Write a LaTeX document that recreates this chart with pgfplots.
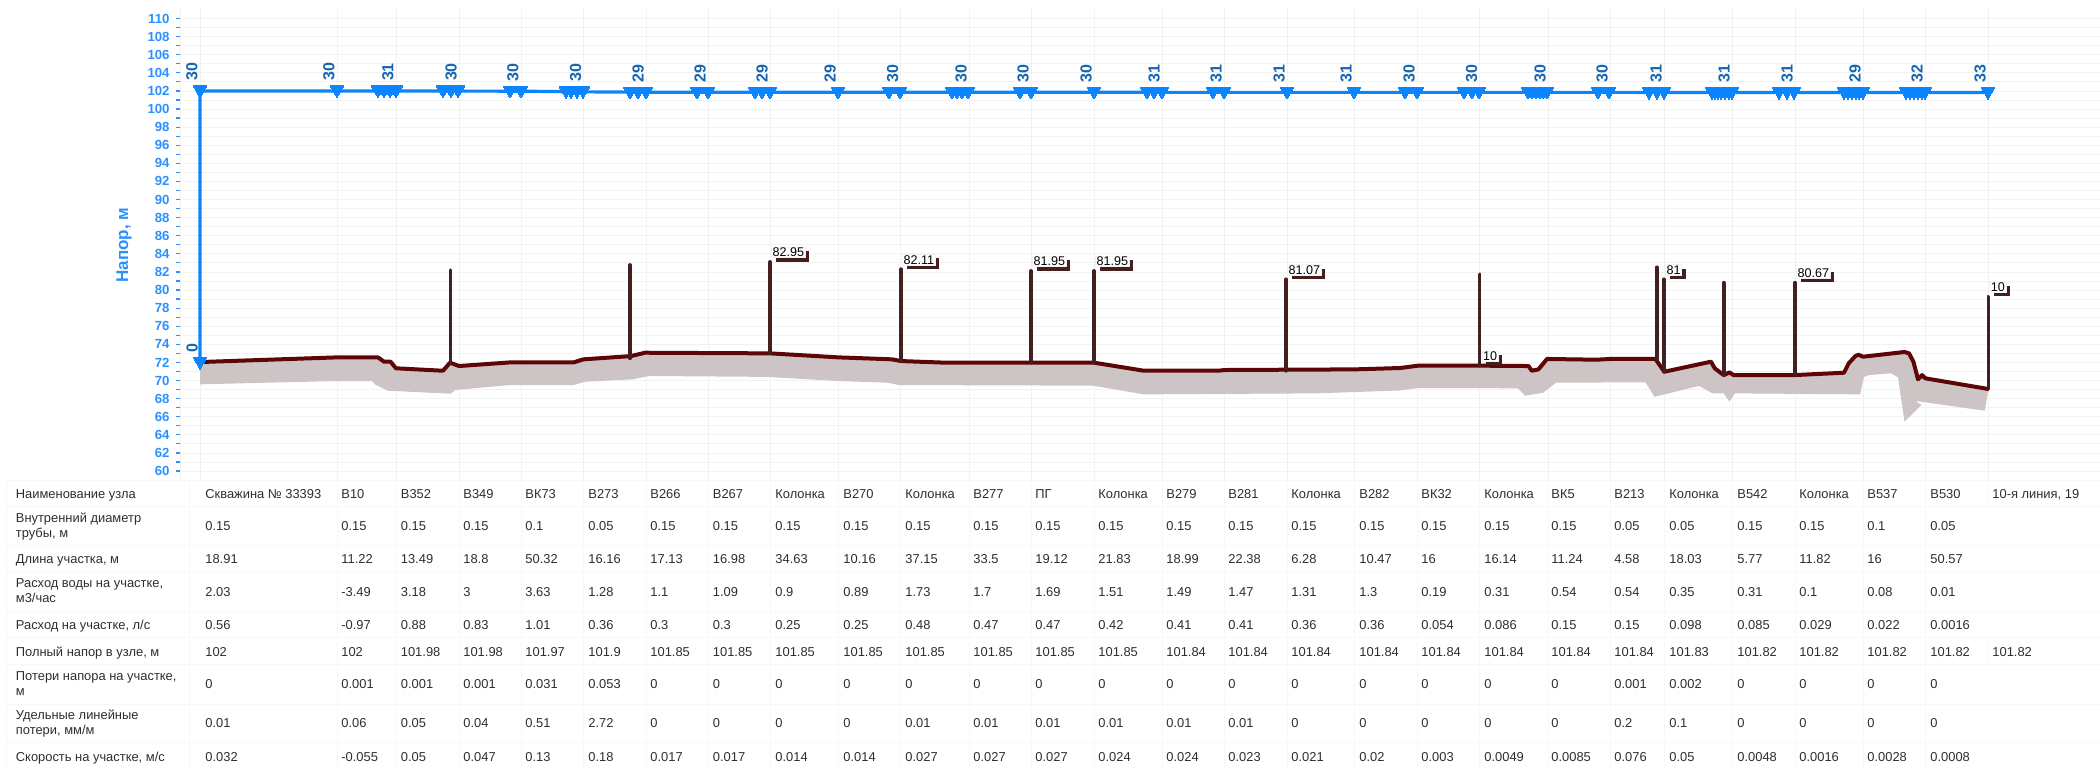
\documentclass[border=0pt]{standalone}
\usepackage{fontspec}
\setmainfont{Liberation Sans}
\usepackage{pgfplots}
\pgfplotsset{compat=1.18}
\usetikzlibrary{shadows}
\definecolor{bl}{HTML}{0A84FF}
\definecolor{blt}{HTML}{2A90FF}
\definecolor{bld}{HTML}{1565B0}
\definecolor{brw}{HTML}{5E0505}
\definecolor{stm}{HTML}{43201F}
\definecolor{gry}{HTML}{CDC5C5}
\definecolor{gr1}{HTML}{F8F8F8}
\definecolor{gr2}{HTML}{F2F2F2}
\definecolor{txt}{HTML}{2E2E2E}
\newcommand{\stem}[3]{\addplot[stm,line width=1.9pt,line cap=round] coordinates {(#1,#2) (#1,#3)};}
\newcommand{\tf}{\fontsize{6.45pt}{7.5pt}\selectfont}
\def\colx{{205,341,400.5,463,525,588,650,712.5,775,843,905,973,1035,1098,1166,1228,1291,1359,1421,1484,1551,1614,1669,1737,1799,1867,1930,1992}}
\newcommand{\trow}[2]{\foreach \v [count=\i from 0] in {#2}{\pgfmathsetmacro\xx{\colx[\i]}\node[anchor=base west,inner sep=0pt,text=txt,font=\tf] at (\xx,#1+4.5) {\v};}}
\newcommand{\hd}[3]{\node[anchor=base west,inner sep=0pt,text=txt,font=\tf] at (15.5,#1) {#2};\node[anchor=base west,inner sep=0pt,text=txt,font=\tf] at (15.5,#1+15) {#3};}
\begin{document}
\begin{tikzpicture}
\useasboundingbox (0,0) rectangle (1050pt,-384pt);
\begin{axis}[
  at={(90pt,-240.025pt)},anchor=south west,
  scale only axis,width=960pt,height=235.3pt,
  xmin=180,xmax=2100,ymin=59,ymax=111,clip=false,
  axis x line*=bottom,axis y line*=left,
  x axis line style={draw=none},
  y axis line style={draw=gr2,-},
  xtick={200,337,396,459,521,583.5,646,708,770,838,900.6,969,1031,1094,1162,1224,1287,1354,1417,1479.5,1548,1610,1664,1732,1795,1863,1925,1988},
  xticklabels={},
  ytick={60,62,...,110},
  minor y tick num=1,
  xmajorgrids,ymajorgrids,yminorgrids,
  x grid style={gr2,line width=0.5pt},
  y grid style={gr2,line width=0.4pt},
  minor grid style={gr1,line width=0.4pt},
  major x tick style={draw=none},
  y tick style={blt,line width=0.6pt},
  tick align=outside,
  major tick length=2pt,minor tick length=2pt,
  yticklabel style={text=blt,font=\bfseries\fontsize{6.6pt}{7pt}\selectfont,/pgf/number format/assume math mode=true,xshift=0.3pt},
]
% head line
\addplot[bl,line width=1.6pt,line join=round] coordinates {(200,72)(200,102)(337,102)(396,101.98)(459,101.98)(521,101.97)(583.5,101.9)(646,101.85)(708,101.85)(770,101.85)(838,101.85)(900.6,101.85)(969,101.85)(1031,101.85)(1094,101.85)(1162,101.84)(1224,101.84)(1287,101.84)(1354,101.84)(1417,101.84)(1479.5,101.84)(1548,101.84)(1610,101.84)(1664,101.83)(1732,101.82)(1795,101.82)(1863,101.82)(1925,101.82)(1988,101.82)};
% node markers
\addplot[bl,only marks,mark=triangle*,mark size=3.9pt,mark options={draw=bl,fill=bl,line width=0pt,yshift=0.6pt,rotate=180}] coordinates {
(200,72)(200,102)(337,102)
(378,101.98)(384,101.98)(390,101.98)(396,101.98)
(443,101.98)(451,101.98)(458,101.98)
(510,101.97)(521,101.97)
(566,101.9)(571,101.9)(577,101.9)(583,101.9)
(630,101.85)(638,101.85)(646,101.85)
(697,101.85)(708,101.85)
(755,101.85)(762,101.85)(770,101.85)
(838,101.85)
(889,101.85)(900,101.85)
(952,101.85)(957,101.85)(962,101.85)(968,101.85)
(1020,101.85)(1031,101.85)
(1094,101.85)
(1147,101.84)(1154,101.84)(1162,101.84)
(1213,101.84)(1224,101.84)
(1287,101.84)(1354,101.84)
(1405,101.84)(1417,101.84)
(1464,101.84)(1472,101.84)(1479,101.84)
(1528,101.84)(1532,101.84)(1536,101.84)(1540,101.84)(1543,101.84)(1547,101.84)
(1598,101.84)(1609,101.84)
(1649,101.83)(1657,101.83)(1664,101.83)
(1712,101.82)(1715,101.82)(1718,101.82)(1721,101.82)(1725,101.82)(1729,101.82)(1732,101.82)
(1779,101.82)(1787,101.82)(1794,101.82)
(1844,101.82)(1848,101.82)(1852,101.82)(1856,101.82)(1859,101.82)(1863,101.82)
(1906,101.82)(1910,101.82)(1914,101.82)(1918,101.82)(1922,101.82)(1925,101.82)
(1988,101.82)};
% numbers over nodes
\addplot[draw=none,mark=none,point meta=explicit symbolic,
  nodes near coords,
  every node near coord/.style={xshift=-4pt,yshift=9.5pt,anchor=center,rotate=90,inner sep=0pt,text=bld,font=\bfseries\fontsize{8pt}{8pt}\selectfont}]
 coordinates {(200,102)[30](337,102)[30](396,101.98)[31](459,101.98)[30](521,101.97)[30](583.5,101.9)[30](646,101.85)[29](708,101.85)[29](770,101.85)[29](838,101.85)[29](900.6,101.85)[30](969,101.85)[30](1031,101.85)[30](1094,101.85)[30](1162,101.84)[31](1224,101.84)[31](1287,101.84)[31](1354,101.84)[31](1417,101.84)[30](1479.5,101.84)[30](1548,101.84)[30](1610,101.84)[30](1664,101.83)[31](1732,101.82)[31](1795,101.82)[31](1863,101.82)[29](1925,101.82)[32](1988,101.82)[33]};
\addplot[draw=none,mark=none,point meta=explicit symbolic,
  nodes near coords,
  every node near coord/.style={xshift=-4pt,yshift=7.2pt,anchor=center,rotate=90,inner sep=0pt,text=bld,font=\bfseries\fontsize{8pt}{8pt}\selectfont}]
 coordinates {(200,72)[0]};
% soil band
\addplot[fill=gry,draw=none] coordinates {
(200,72.04)(338,72.56)(378,72.56)(384,72.08)(390.5,72.08)(396,71.35)(443,71.08)(450,71.97)(459,71.6)(510,72.0)(573.5,72.0)(583.5,72.34)(631,72.7)(645,73.07)(770,73.0)(838,72.56)(892,72.34)(901,72.15)(945.5,71.97)(1094,71.97)(1144,71.08)(1218,71.08)(1354.5,71.23)(1400,71.38)(1418,71.64)(1528.6,71.6)(1531.7,71.08)(1538.4,71.23)(1547,72.38)(1655.4,72.38)(1664.3,70.97)(1711,72.08)(1714.7,71.35)(1723.7,70.6)(1729.5,70.9)(1733.5,70.6)(1844,70.86)(1848.7,71.9)(1855.4,72.7)(1858.5,72.85)(1863,72.63)(1904.5,73.15)(1909,73.0)(1913.4,72.08)(1918,70.13)(1922,70.6)(1925.4,70.24)(1988.4,69.06)
(1984.8,66.66)(1915.6,67.74)(1921.4,67.3)(1904.5,65.45)(1898,70.35)(1891,70.8)(1869,70.6)(1864,70.4)(1860,68.47)(1735,68.58)(1729.5,67.66)(1723.7,68.58)(1712.5,68.58)(1699,69.4)(1654.5,68.2)(1645.5,69.8)(1556,69.76)(1543,68.65)(1525,68.32)(1518,69.14)(1418,69.17)(1400,68.9)(1316,68.58)(1144,68.47)(1093,69.43)(899,69.5)(887.5,69.76)(838,69.94)(767,70.4)(649,70.5)(633,70.13)(585.4,69.87)(573.5,69.5)(510,69.5)(455,68.95)(451,68.54)(388,68.87)(376,69.5)(372,69.94)(336,69.94)(200,69.58)};
% ground line
\addplot[brw,line width=2pt,line join=round] coordinates {
(200,72.04)(338,72.56)(378,72.56)(384,72.08)(390.5,72.08)(396,71.35)(443,71.08)(450,71.97)(459,71.6)(510,72.0)(573.5,72.0)(583.5,72.34)(631,72.7)(645,73.07)(770,73.0)(838,72.56)(892,72.34)(901,72.15)(945.5,71.97)(1094,71.97)(1144,71.08)(1218,71.08)(1224.5,71.16)(1354.5,71.23)(1400,71.38)(1418,71.64)(1479.5,71.64)(1528.6,71.6)(1531.7,71.08)(1538.4,71.23)(1547,72.38)(1596.4,72.3)(1610,72.38)(1655.4,72.38)(1664.3,70.97)(1711,72.08)(1714.7,71.35)(1723.7,70.6)(1729.5,70.9)(1733.5,70.6)(1795,70.6)(1844,70.86)(1848.7,71.9)(1855.4,72.7)(1858.5,72.85)(1863,72.63)(1904.5,73.15)(1909,73.0)(1913.4,72.08)(1918,70.13)(1922,70.6)(1925.4,70.24)(1988.4,69.06)};
% stems
\stem{450.5}{71.97}{82.2}
\stem{630}{72.45}{82.76}
\stem{770}{73}{83.1}
\stem{901}{72.15}{82.3}
\stem{1031}{71.97}{82.1}
\stem{1094}{71.97}{82.1}
\stem{1286}{71.08}{81.18}
\stem{1479.5}{71.64}{81.73}
\stem{1656.7}{72.38}{82.5}
\stem{1664}{70.97}{81.18}
\stem{1723.7}{70.6}{80.8}
\stem{1795}{70.6}{80.8}
\stem{1988.4}{69.06}{79.26}
% flags
\addplot[draw=none,mark=none,point meta=explicit symbolic,
  nodes near coords,
  every node near coord/.style={xshift=0.6pt,yshift=2pt,anchor=south west,inner xsep=0.5pt,inner ysep=0.4pt,fill=white,draw=gr2,line width=0.3pt,text=black,text height=4.4pt,text depth=0pt,font=\fontsize{6.3pt}{6.5pt}\selectfont,general shadow={fill=stm,shadow xshift=2pt,shadow yshift=-2pt}}]
 coordinates {(770,83.1)[82.95](901,82.3)[82.11](1031,82.1)[81.95](1094,82.1)[81.95](1286,81.18)[81.07](1480.5,71.64)[10](1664,81.18)[81](1795,80.8)[80.67](1988.4,79.26)[10]};
\end{axis}
\node[rotate=90,text=blt,font=\bfseries\fontsize{8.5pt}{10pt}\selectfont] at (62pt,-122.5pt) {Напор, м};
\begin{scope}[x=0.5pt,y=-0.5pt]
\foreach \y in {480,506.7,545.7,572.3,611.3,637.7,664.3,704,742.7}{\draw[gr1,line width=0.5pt] (6,\y)--(2100,\y);}
\foreach \x in {6,189,337,396,459,521,583.5,646,708,770,838,900.6,969,1031,1094,1162,1224,1287,1354,1417,1479.5,1548,1610,1664,1732,1795,1863,1925}{\draw[gr1,line width=0.5pt] (\x,480)--(\x,768);}
\draw[gr1,line width=0.5pt] (1988,480)--(1988,506.7) (1988,637.7)--(1988,664.3);
\node[anchor=base west,inner sep=0pt,text=txt,font=\tf] at (15.5,498.5) {Наименование узла};
\hd{522.5}{Внутренний диаметр}{трубы, м}
\node[anchor=base west,inner sep=0pt,text=txt,font=\tf] at (15.5,563.5) {Длина участка, м};
\hd{587.5}{Расход воды на участке,}{м3/час}
\node[anchor=base west,inner sep=0pt,text=txt,font=\tf] at (15.5,629.5) {Расход на участке, л/с};
\node[anchor=base west,inner sep=0pt,text=txt,font=\tf] at (15.5,656) {Полный напор в узле, м};
\hd{680}{Потери напора на участке,}{м}
\hd{719}{Удельные линейные}{потери, мм/м}
\node[anchor=base west,inner sep=0pt,text=txt,font=\tf] at (15.5,761) {Скорость на участке, м/с};
\trow{494}{Скважина № 33393,В10,В352,В349,ВК73,В273,В266,В267,Колонка,В270,Колонка,В277,ПГ,Колонка,В279,В281,Колонка,В282,ВК32,Колонка,ВК5,В213,Колонка,В542,Колонка,В537,В530,{10-я линия, 19}}
\trow{526}{0.15,0.15,0.15,0.15,0.1,0.05,0.15,0.15,0.15,0.15,0.15,0.15,0.15,0.15,0.15,0.15,0.15,0.15,0.15,0.15,0.15,0.05,0.05,0.15,0.15,0.1,0.05}
\trow{559}{18.91,11.22,13.49,18.8,50.32,16.16,17.13,16.98,34.63,10.16,37.15,33.5,19.12,21.83,18.99,22.38,6.28,10.47,16,16.14,11.24,4.58,18.03,5.77,11.82,16,50.57}
\trow{592}{2.03,-3.49,3.18,3,3.63,1.28,1.1,1.09,0.9,0.89,1.73,1.7,1.69,1.51,1.49,1.47,1.31,1.3,0.19,0.31,0.54,0.54,0.35,0.31,0.1,0.08,0.01}
\trow{625}{0.56,-0.97,0.88,0.83,1.01,0.36,0.3,0.3,0.25,0.25,0.48,0.47,0.47,0.42,0.41,0.41,0.36,0.36,0.054,0.086,0.15,0.15,0.098,0.085,0.029,0.022,0.0016}
\trow{651.7}{102,102,101.98,101.98,101.97,101.9,101.85,101.85,101.85,101.85,101.85,101.85,101.85,101.85,101.84,101.84,101.84,101.84,101.84,101.84,101.84,101.84,101.83,101.82,101.82,101.82,101.82,101.82}
\trow{684}{0,0.001,0.001,0.001,0.031,0.053,0,0,0,0,0,0,0,0,0,0,0,0,0,0,0,0.001,0.002,0,0,0,0}
\trow{723}{0.01,0.06,0.05,0.04,0.51,2.72,0,0,0,0,0.01,0.01,0.01,0.01,0.01,0.01,0,0,0,0,0,0.2,0.1,0,0,0,0}
\trow{756.7}{0.032,-0.055,0.05,0.047,0.13,0.18,0.017,0.017,0.014,0.014,0.027,0.027,0.027,0.024,0.024,0.023,0.021,0.02,0.003,0.0049,0.0085,0.076,0.05,0.0048,0.0016,0.0028,0.0008}
\end{scope}
\end{tikzpicture}
\end{document}
